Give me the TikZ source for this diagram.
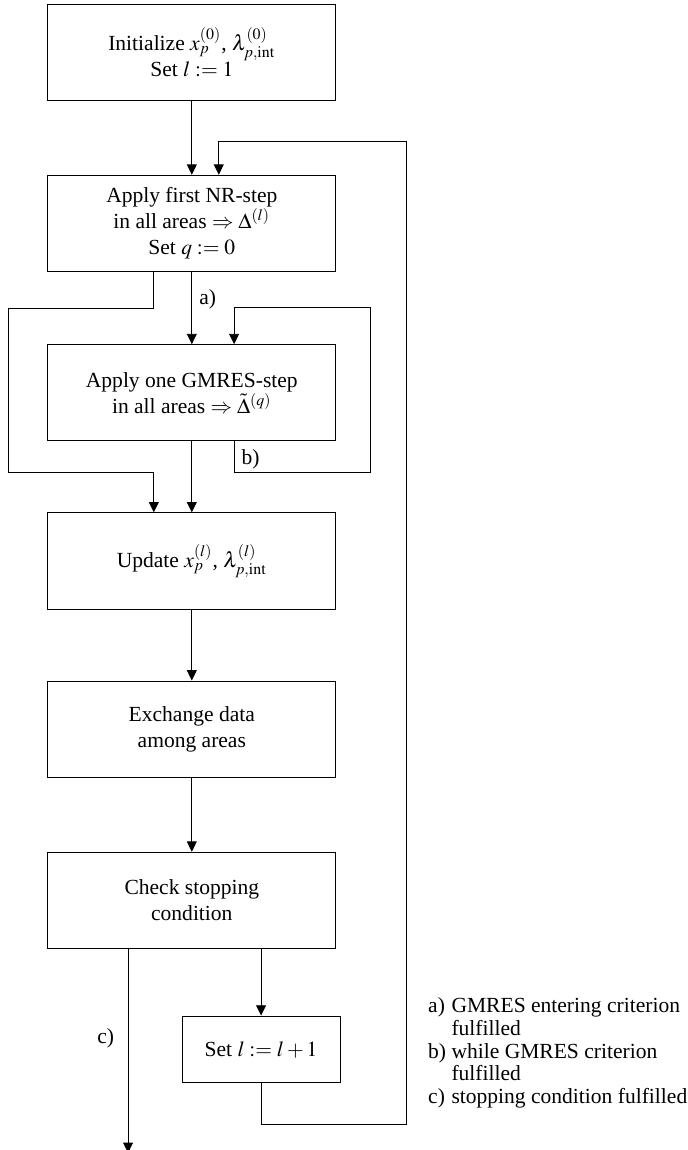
\documentclass[tikz,border=0pt]{standalone}
\usepackage{mathptmx}
\usepackage{fontspec}
\setmainfont{Liberation Serif}
\usetikzlibrary{positioning,arrows.meta,calc}

\begin{document}
\begin{tikzpicture}[
		box/.style={rectangle,draw=black,minimum width=4.7cm,minimum height=1.57cm,align=center},
		arr/.style={-{Triangle[length=4.8pt,width=4.6pt]}}
	]
		\useasboundingbox (-3.13,0.85) rectangle (8.09,-17.915);
		\node[box](init) at (0,0) {Initialize $x_p^{(0)}$, $\lambda_{p,\mathrm{int}}^{(0)}$\\Set $l:=1$};
		\node[box,below=1.21cm of init](nr){Apply first NR-step\\in all areas $\Rightarrow\Delta^{(l)}$\\Set $q:=0$};
		\node[box,below=1.18cm of nr](gmres){Apply one GMRES-step\\in all areas $\Rightarrow\tilde{\Delta}^{(q)}$};
		\node[box,below=1.16cm of gmres](update){Update $x_p^{(l)}$, $\lambda_{p,\mathrm{int}}^{(l)}$};
		\node[box,below=1.16cm of update](exch){Exchange data\\among areas};
		\node[box,below=1.21cm of exch](check){Check stopping\\condition};
		\node[box,minimum width=2.58cm,minimum height=1.09cm,below=1.09cm of check,xshift=1.13cm](incr){Set $l:=l+1$};
		\coordinate (cend) at ([xshift=-1.04cm,yshift=-3.33cm]check.south);
		% main line
		\draw[arr](init)--(nr);
		\draw[arr](nr)--(gmres) node[pos=0.38,right](lbla){a)};
		\draw[arr](gmres)--(update);
		\draw[arr](update)--(exch);
		\draw[arr](exch)--(check);
		\draw[arr]([xshift=1.13cm]check.south)--(incr);
		% loops
		\draw[arr]([xshift=-0.62cm]nr.south)--++(0,-0.60cm)--++(-2.38cm,0)|-([xshift=-0.62cm,yshift=0.65cm]update.north)--([xshift=-0.62cm]update.north);
		\draw[arr]([xshift=0.69cm]gmres.south)--++(0,-0.51cm) node[pos=0.58,right](lblb){b)} -|([xshift=2.92cm,yshift=0.60cm]gmres.north)--([xshift=0.69cm,yshift=0.60cm]gmres.north)--([xshift=0.69cm]gmres.north);
		\draw[arr](incr.south)--++(0,-0.67cm)-|([xshift=3.51cm,yshift=0.55cm]nr.north)--([xshift=0.44cm,yshift=0.55cm]nr.north)--([xshift=0.44cm]nr.north);
		\draw[arr]([xshift=-1.04cm]check.south)--(cend) node[pos=0.44,left=3pt](lblc){c)};
		% legend
		\node[anchor=base west,inner sep=0pt](legend) at ($(check.south)+(3.85cm,-1.04cm)$) {\renewcommand{\arraystretch}{0.88}\begin{tabular}[t]{@{}l@{~}l@{}}
			a) & GMRES entering criterion\\
			& fulfilled\\
			b) & while GMRES criterion\\
			& fulfilled\\
			c) & stopping condition fulfilled
		\end{tabular}};
	\end{tikzpicture}
\end{document}
